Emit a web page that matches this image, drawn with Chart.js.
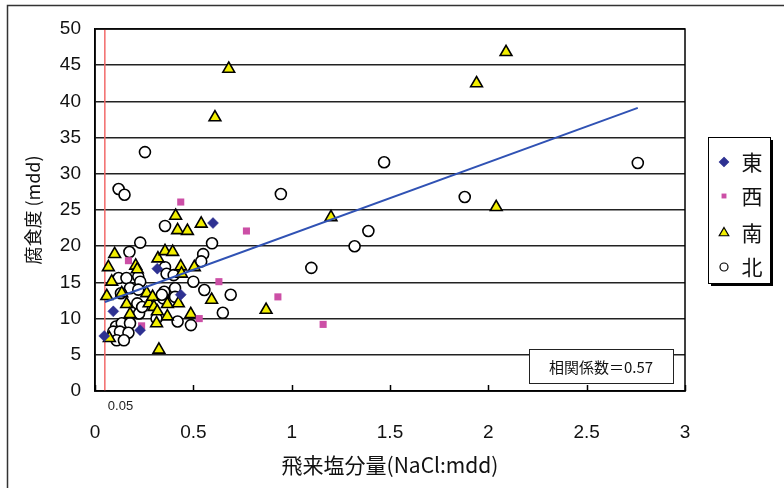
<!DOCTYPE html>
<html>
<head>
<meta charset="utf-8">
<script src="https://cdn.jsdelivr.net/npm/chart.js@4.4.0/dist/chart.umd.min.js"></script>
<style>
  body { margin: 0; background: #fff; }
</style>
</head>
<body>
<canvas id="chart" width="784" height="488"></canvas>
<script>
// series points [NaCl, mdd]
var eastPts = [[0.047,7.6],[0.093,11.0],[0.229,8.4],[0.317,16.9],[0.436,13.3],[0.60,23.2]];
var westPts = [[0.17,18.0],[0.436,26.1],[0.77,22.1],[0.63,15.1],[0.237,9.0],[0.53,10.0],[0.93,13.0],[1.16,9.2]];
var southPts = [[0.068,17.1],[0.10,18.9],[0.085,15.1],[0.06,13.1],[0.136,13.5],[0.073,7.3],[0.161,12.0],
  [0.178,10.6],[0.207,17.3],[0.215,16.8],[0.263,13.5],[0.275,12.1],[0.293,13.0],[0.30,11.6],[0.317,11.0],
  [0.313,9.35],[0.325,5.7],[0.32,18.3],[0.356,19.3],[0.395,19.2],[0.368,12.0],[0.368,10.3],[0.424,12.1],
  [0.436,17.2],[0.44,16.2],[0.41,24.2],[0.42,22.2],[0.47,22.1],[0.487,10.6],[0.505,17.1],[0.54,23.1],
  [0.593,12.6],[0.61,37.8],[0.68,44.5],[0.87,11.2],[1.20,24.0],[1.94,42.5],[2.04,25.4],[2.09,46.8]];
var northPts = [[0.254,33.0],[0.12,27.9],[0.15,27.1],[0.356,22.8],[0.23,20.5],[0.595,20.4],[0.175,19.2],
  [0.55,18.9],[0.54,17.9],[0.356,17.1],[0.364,16.2],[0.40,16.0],[0.12,15.6],[0.16,15.6],[0.22,15.8],
  [0.23,15.1],[0.50,15.1],[0.178,14.2],[0.132,13.5],[0.22,14.0],[0.352,13.7],[0.407,14.2],[0.347,12.8],
  [0.556,13.95],[0.69,13.3],[0.407,13.0],[0.215,12.1],[0.224,10.7],[0.313,10.0],[0.42,9.6],[0.488,9.1],
  [0.65,10.8],[0.107,8.9],[0.136,9.35],[0.178,9.35],[0.093,8.2],[0.127,8.2],[0.17,8.05],[0.11,7.0],
  [0.147,7.0],[0.24,11.6],[0.34,13.3],[0.945,27.2],[1.10,17.0],[1.32,20.0],[1.39,22.1],[1.47,31.6],
  [1.88,26.8],[2.76,31.5]];
var trendX = [0.05, 2.76];
var trendY = [12.3, 39.1];
var refX = [0.05, 0.05];
var refY = [0, 50];
var seriesNames = ["東", "西", "南", "北"];
var xTicks = [0, 0.5, 1, 1.5, 2, 2.5, 3];
var xTickLabels = ["0", "0.5", "1", "1.5", "2", "2.5", "3"];
var yTicks = [0, 5, 10, 15, 20, 25, 30, 35, 40, 45, 50];
var refLabel = "0.05";
var corrText = "相関係数＝0.57";

var FONT = "'Liberation Sans', Arial, 'Noto Sans CJK JP', sans-serif";
var CJK = "'Noto Sans CJK JP', 'Liberation Sans', sans-serif";

function toXY(arr){
  return arr.map(function(p){ return {x:p[0], y:p[1]}; });
}
function pairXY(xs, ys){
  return xs.map(function(v,i){ return {x:v, y:ys[i]}; });
}

var markStyles = [
  {pointStyle:"rectRot", radius:5.5, bg:"#2E3192", border:"#2E3192", bw:0.5},
  {pointStyle:"rect", radius:5, bg:"#CC4FA6", border:"#CC4FA6", bw:0},
  {pointStyle:"triangle", radius:6.8, bg:"#F2EE00", border:"#000", bw:1.6},
  {pointStyle:"circle", radius:5.5, bg:"#fff", border:"#000", bw:1.6}
];
var seriesData = [eastPts, westPts, southPts, northPts];

var datasets = [{
  type:"line", label:"trend", data:pairXY(trendX, trendY),
  borderColor:"#3052B4", borderWidth:2, pointRadius:0, fill:false
}];
seriesData.forEach(function(d, i){
  var s = markStyles[i];
  datasets.push({
    type:"scatter", label:seriesNames[i], data:toXY(d),
    pointStyle:s.pointStyle, pointRadius:s.radius, pointHoverRadius:s.radius,
    backgroundColor:s.bg, borderColor:s.border, pointBorderWidth:s.bw, borderWidth:s.bw
  });
});
datasets.push({
  type:"line", label:"ref", data:pairXY(refX, refY),
  borderColor:"#F26A6A", borderWidth:1.5, pointRadius:0, fill:false
});

function drawMark(ctx, style, x, y, r){
  ctx.save();
  ctx.fillStyle = style.bg;
  ctx.strokeStyle = style.border;
  ctx.lineWidth = style.bw > 0 ? 1.2 : 0;
  ctx.beginPath();
  if (style.pointStyle === "rectRot"){
    ctx.moveTo(x, y-r); ctx.lineTo(x+r, y); ctx.lineTo(x, y+r); ctx.lineTo(x-r, y); ctx.closePath();
  } else if (style.pointStyle === "rect"){
    var h = r*0.7; ctx.rect(x-h, y-h, 2*h, 2*h);
  } else if (style.pointStyle === "triangle"){
    ctx.moveTo(x, y-r); ctx.lineTo(x+r*0.87, y+r*0.5); ctx.lineTo(x-r*0.87, y+r*0.5); ctx.closePath();
  } else {
    ctx.arc(x, y, r, 0, Math.PI*2);
  }
  ctx.fill();
  if (style.bw > 0) ctx.stroke();
  ctx.restore();
}

var extras = {
  id:"extras",
  beforeDraw:function(chart){
    var ctx = chart.ctx;
    ctx.save();
    ctx.fillStyle = "#fff";
    ctx.fillRect(0, 0, chart.width, chart.height);
    ctx.strokeStyle = "#333";
    ctx.lineWidth = 1.5;
    ctx.strokeRect(7.5, 5.5, 820, 520);
    ctx.restore();
  },
  afterDraw:function(chart){
    var ctx = chart.ctx, a = chart.chartArea;
    var xs = chart.scales.x;
    ctx.save();
    // plot frame
    ctx.strokeStyle = "#000";
    ctx.lineWidth = 1.5;
    ctx.strokeRect(a.left, a.top, a.right-a.left, a.bottom-a.top);
    // inward ticks
    xTicks.forEach(function(v){
      var px = Math.round(xs.getPixelForValue(v)) + 0.5;
      ctx.beginPath(); ctx.moveTo(px, a.bottom); ctx.lineTo(px, a.bottom-6); ctx.stroke();
    });
    // ref label
    ctx.fillStyle = "#222";
    ctx.font = "13px " + FONT;
    ctx.textAlign = "left";
    ctx.textBaseline = "middle";
    ctx.fillText(refLabel, xs.getPixelForValue(refX[0]) + 3, 406);
    // correlation box
    ctx.fillStyle = "#fff";
    ctx.fillRect(529, 349, 144, 34);
    ctx.lineWidth = 1;
    ctx.strokeStyle = "#222";
    ctx.strokeRect(529.5, 349.5, 144, 34);
    ctx.fillStyle = "#111";
    ctx.font = "15px " + CJK;
    ctx.textAlign = "center";
    ctx.fillText(corrText, 601, 367);
    // legend
    var lx = 708, ly = 137, lw = 62, lh = 146;
    ctx.fillStyle = "#000";
    ctx.fillRect(lx+3, ly+3, lw, lh);
    ctx.fillStyle = "#fff";
    ctx.fillRect(lx, ly, lw, lh);
    ctx.strokeStyle = "#000";
    ctx.lineWidth = 1;
    ctx.strokeRect(lx+0.5, ly+0.5, lw, lh);
    var rows = [162, 196, 233, 267];
    var lr = [4.5, 3.5, 5.5, 4];
    seriesNames.forEach(function(n, i){
      drawMark(ctx, markStyles[i], 724, rows[i], lr[i]);
      ctx.fillStyle = "#111";
      ctx.font = "21px " + CJK;
      ctx.textAlign = "center";
      ctx.textBaseline = "middle";
      ctx.fillText(n, 752, rows[i]);
    });
    ctx.restore();
  }
};

new Chart(document.getElementById("chart"), {
  type:"scatter",
  data:{ datasets:datasets },
  plugins:[extras],
  options:{
    responsive:false,
    devicePixelRatio:1,
    animation:false,
    layout:{ padding:{ left:0, right:99, top:29, bottom:0 } },
    plugins:{ legend:{ display:false }, tooltip:{ enabled:false } },
    scales:{
      x:{
        type:"linear", min:0, max:3,
        afterFit:function(s){ s.height = 97; },
        afterBuildTicks:function(s){ s.ticks = xTicks.map(function(v){ return {value:v}; }); },
        grid:{ display:false, drawTicks:false },
        border:{ display:true, color:"#000", width:1.5 },
        ticks:{ padding:30, color:"#111", font:{ family:FONT, size:19 }, maxRotation:0,
          callback:function(v){ var i = xTicks.indexOf(v); return i >= 0 ? xTickLabels[i] : ""; } },
        title:{ display:true, text:"飛来塩分量(NaCl:mdd)", color:"#111",
          font:{ family:CJK, size:21 }, padding:{ top:0, bottom:10 } }
      },
      y:{
        type:"linear", min:0, max:50,
        afterFit:function(s){ s.width = 95; },
        afterBuildTicks:function(s){ s.ticks = yTicks.map(function(v){ return {value:v}; }); },
        grid:{ color:"#222", lineWidth:1.6, drawTicks:false },
        border:{ display:true, color:"#000", width:1.5 },
        ticks:{ padding:14, color:"#111", font:{ family:FONT, size:19 } },
        title:{ display:true, text:"腐食度 (mdd)", color:"#111",
          font:{ family:CJK, size:18 }, padding:{ top:22, bottom:0 } }
      }
    }
  }
});
</script>
</body>
</html>
